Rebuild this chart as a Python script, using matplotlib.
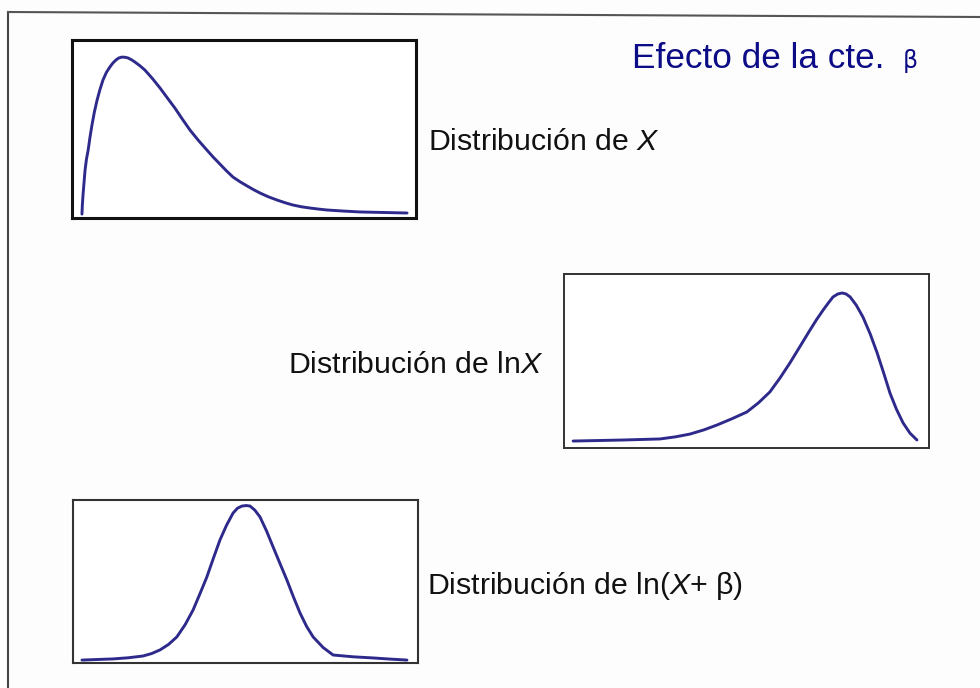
import matplotlib
matplotlib.use("Agg")
import matplotlib.pyplot as plt
from matplotlib.lines import Line2D

plt.rcParams['font.family'] = ['Liberation Sans', 'DejaVu Sans']
plt.rcParams['mathtext.fontset'] = 'custom'
plt.rcParams['mathtext.rm'] = 'Liberation Sans'
plt.rcParams['mathtext.it'] = 'Liberation Sans:italic'

# Panel 1: distribution of X (right-skewed)
x_dist = [0.29, 0.30, 0.32, 0.35, 0.38, 0.42, 0.47, 0.52, 0.58, 0.65, 0.73, 0.81,
          0.90, 1.00, 1.10, 1.19, 1.28, 1.36, 1.45, 1.54, 1.63, 1.73, 1.83, 1.97,
          2.12, 2.34, 2.56, 2.77, 2.99, 3.21, 3.43, 3.67, 3.92, 4.11, 4.30, 4.49,
          4.68, 4.88, 5.09, 5.28, 5.47, 5.71, 5.96, 6.19, 6.42, 6.67, 6.92, 7.17,
          7.41, 7.89, 8.37, 9.05, 9.74]
y_dist = [0.022, 0.070, 0.129, 0.200, 0.270, 0.330, 0.382, 0.450, 0.522, 0.595, 0.663, 0.720,
          0.775, 0.818, 0.848, 0.871, 0.888, 0.899, 0.904, 0.903, 0.899, 0.889, 0.876, 0.856,
          0.831, 0.783, 0.730, 0.675, 0.618, 0.555, 0.494, 0.437, 0.382, 0.341, 0.303, 0.265,
          0.230, 0.204, 0.180, 0.159, 0.140, 0.119, 0.101, 0.086, 0.073, 0.063, 0.056, 0.050,
          0.045, 0.039, 0.034, 0.031, 0.028]

# Panel 2: distribution of lnX (left-skewed)
x_lnx = [0.25, 0.95, 1.62, 2.13, 2.63, 3.05, 3.45, 3.83, 4.19, 4.60, 5.01, 5.33,
         5.64, 5.92, 6.19, 6.47, 6.74, 6.92, 7.10, 7.24, 7.37, 7.50, 7.62, 7.73,
         7.84, 8.01, 8.19, 8.39, 8.58, 8.76, 8.93, 9.11, 9.29, 9.48, 9.67]
y_lnx = [0.040, 0.043, 0.046, 0.049, 0.052, 0.064, 0.080, 0.104, 0.132, 0.168, 0.207, 0.260,
         0.322, 0.403, 0.489, 0.585, 0.678, 0.738, 0.793, 0.833, 0.868, 0.885, 0.891, 0.885,
         0.868, 0.820, 0.753, 0.655, 0.546, 0.430, 0.316, 0.222, 0.144, 0.085, 0.046]

# Panel 3: distribution of ln(X+beta) (symmetric)
x_lnxb = [0.26, 1.16, 1.60, 2.03, 2.28, 2.52, 2.77, 3.01, 3.25, 3.48, 3.68, 3.88,
          4.07, 4.26, 4.45, 4.64, 4.77, 4.90, 5.02, 5.13, 5.27, 5.42, 5.61, 5.80,
          6.00, 6.20, 6.39, 6.58, 6.77, 6.96, 7.25, 7.54, 8.12, 8.70, 9.19, 9.68]
y_lnxb = [0.018, 0.025, 0.032, 0.043, 0.058, 0.080, 0.114, 0.160, 0.235, 0.325, 0.425, 0.528,
          0.643, 0.755, 0.845, 0.920, 0.950, 0.963, 0.966, 0.963, 0.938, 0.896, 0.810, 0.712,
          0.610, 0.509, 0.405, 0.307, 0.225, 0.160, 0.095, 0.049, 0.038, 0.031, 0.024, 0.018]

curve_color = '#2e2a8c'
W, H = 980, 688

fig = plt.figure(figsize=(9.8, 6.88), dpi=100)
fig.patch.set_facecolor('#fdfdfd')

def add_panel(px0, py0, px1, py1, xs, ys, frame_lw, frame_color):
    ax = fig.add_axes([px0 / W, 1 - py1 / H, (px1 - px0) / W, (py1 - py0) / H])
    ax.plot(xs, ys, color=curve_color, lw=2.1, solid_joinstyle='round',
            solid_capstyle='round')
    ax.set_xlim(0, 10)
    ax.set_ylim(0, 1)
    ax.set_xticks([])
    ax.set_yticks([])
    ax.set_facecolor('white')
    for s in ax.spines.values():
        s.set_linewidth(frame_lw)
        s.set_color(frame_color)
    return ax

add_panel(72, 40, 416, 218, x_dist, y_dist, 2.2, '#111111')
add_panel(564, 274, 929, 448, x_lnx, y_lnx, 1.4, '#333333')
add_panel(73, 500, 418, 663, x_lnxb, y_lnxb, 1.5, '#333333')

# outer frame (left and top edges)
fig.add_artist(Line2D([8 / W, 8 / W], [0, 1 - 12 / H], transform=fig.transFigure,
                      color='#444444', lw=1.5))
fig.add_artist(Line2D([8 / W, 1.0], [1 - 12 / H, 1 - 17 / H], transform=fig.transFigure,
                      color='#555555', lw=1.5))

# title
fig.text(632 / W, 1 - 68 / H, 'Efecto de la cte.', fontsize=25.3, color='#0c0c86',
         ha='left', va='baseline')
fig.text(903 / W, 1 - 68 / H, 'β', fontsize=17, color='#0c0c86',
         ha='left', va='baseline', family=['DejaVu Sans'])

# labels
fig.text(428 / W, 1 - 150 / H, 'Distribución de $X$', fontsize=21.8, color='#111111',
         ha='left', va='baseline')
fig.text(288 / W, 1 - 373 / H, 'Distribución de ln$X$', fontsize=21.8, color='#111111',
         ha='left', va='baseline')
fig.text(427 / W, 1 - 594 / H, 'Distribución de ln($X$+ β)', fontsize=21.8, color='#111111',
         ha='left', va='baseline')

fig.savefig('out.png', dpi=100, facecolor=fig.get_facecolor())
